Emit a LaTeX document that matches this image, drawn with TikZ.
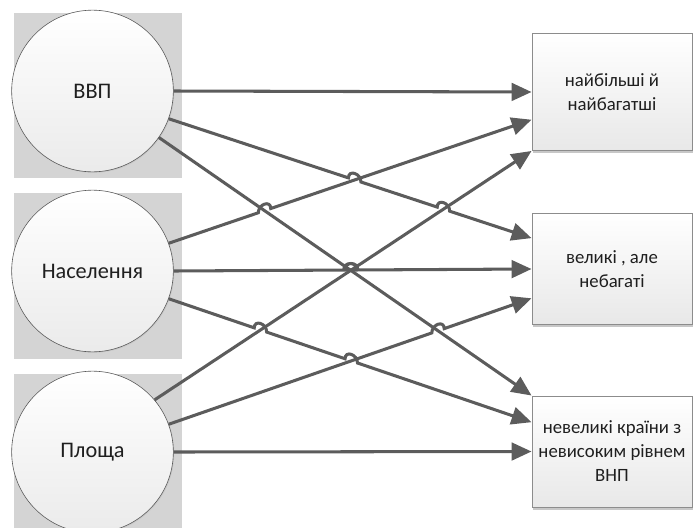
\documentclass[tikz,border=0pt]{standalone}
\usepackage{fontspec}
\setmainfont{Carlito}
\usepackage{xcolor}
\usepackage{tikz}
\usetikzlibrary{arrows.meta,calc,intersections,shadows}

\begin{document}
\begin{tikzpicture}[x=0.03cm,y=-0.03cm]
			\tikzstyle{back} = [fill=black!17]
			\tikzstyle{factor} = [circle, draw=black!65, line width=0.5pt, top color=white, bottom color=black!8, minimum size=4.85cm, text=black!88, font=\fontsize{19}{23}\selectfont, drop shadow={shadow xshift=0.8pt, shadow yshift=-0.8pt, fill=black!25, opacity=0.6}]
			\tikzstyle{group} = [draw=black!45, line width=0.8pt, top color=white, bottom color=black!9, minimum width=4.8cm, minimum height=3.33cm, align=center, text=black!88, font=\fontsize{16}{20.5}\selectfont, drop shadow={shadow xshift=1pt, shadow yshift=-2.5pt, fill=black!22, opacity=1}]
			\tikzset{flow/.style = {-{Triangle[length=17pt,width=15pt]}, draw=black!64, line width=2.6pt}}
			\tikzset{hop/.style n args = {3}{insert path={-- ($(#1)!5.6pt!(#2)$) .. controls ($(#1)!5.6pt!(#2)+(0pt,7.4pt)$) and ($(#1)!5.6pt!(#3)+(0pt,7.4pt)$) .. ($(#1)!5.6pt!(#3)$)}}}
			
			\useasboundingbox (0,0) rectangle (694,527);
			
			% factors
			\fill[back] (14,13)  rectangle (182,178);
			\fill[back] (14,193) rectangle (182,359);
			\fill[back] (14,374) rectangle (182,540);
			\node[factor](gdp)  at (92.5,91)  {ВВП};
			\node[factor](pop)  at (92.5,271) {Населення};
			\node[factor](area) at (92.5,452) {Площа};
			
			% groups of countries
			\node[group, minimum height=3.51cm](rich) at (612,92) {найбільші й\\найбагатші};
			\node[group](poor)  at (612,269)   {великі , але\\небагаті};
			\node[group](small) at (612,451.5) {невеликі країни з\\невисоким рівнем\\ВНП};
			
			% crossings
			\path[name path=a2] (gdp.-20)  -- (poor.159);
			\path[name path=a3] (gdp.-35)  -- (small.north west);
			\path[name path=b1] (pop.20)   -- (rich.199);
			\path[name path=b2] (pop.east) -- (poor.west);
			\path[name path=b3] (pop.-20)  -- (small.160);
			\path[name path=c1] (area.40)  -- (rich.south west);
			\path[name path=c2] (area.20)  -- (poor.200);
			\path[name intersections={of=a2 and b1, by=h1}];
			\path[name intersections={of=a2 and c1, by=h2}];
			\path[name intersections={of=b1 and a3, by=h3}];
			\path[name intersections={of=b2 and a3, by=h4}];
			\path[name intersections={of=b2 and c1, by=h5}];
			\path[name intersections={of=b3 and c1, by=h6}];
			\path[name intersections={of=b3 and c2, by=h7}];
			\path[name intersections={of=c2 and a3, by=h8}];
			
			% links
			\draw[flow] (gdp.east) -- (rich.west);
			\draw[flow] (gdp.-20) [hop={h1}{gdp.-20}{poor.159}] [hop={h2}{gdp.-20}{poor.159}] -- (poor.159);
			\draw[flow] (gdp.-35) -- (small.north west);
			\draw[flow] (pop.20) [hop={h3}{pop.20}{rich.199}] -- (rich.199);
			\draw[flow] (pop.east) [hop={h4}{pop.east}{poor.west}] [hop={h5}{pop.east}{poor.west}] -- (poor.west);
			\draw[flow] (pop.-20) [hop={h6}{pop.-20}{small.160}] [hop={h7}{pop.-20}{small.160}] -- (small.160);
			\draw[flow] (area.40) -- (rich.south west);
			\draw[flow] (area.20) [hop={h8}{area.20}{poor.200}] -- (poor.200);
			\draw[flow] (area.east) -- (small.west);
\end{tikzpicture}
\end{document}
